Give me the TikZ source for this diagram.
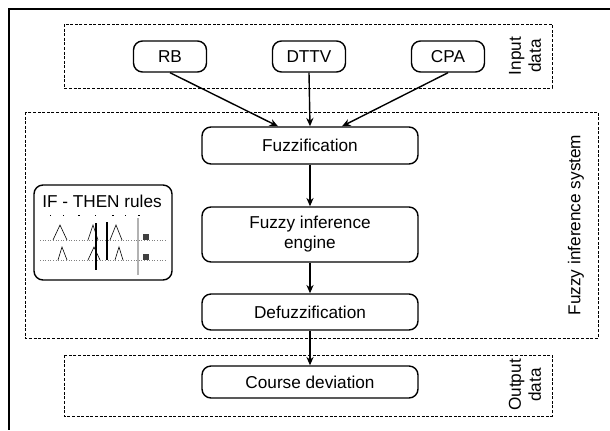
\documentclass[tikz,border=0pt]{standalone}
\usepackage{fontspec}
\setmainfont{Liberation Sans}
\usetikzlibrary{arrows.meta, positioning}

\begin{document}
\begin{tikzpicture}[x=0.5pt, y=-0.5pt, line width=0.7pt, >={Stealth[length=4.2pt, width=3.6pt]}, font=\fontsize{8.6}{10}\selectfont]

		% Define styles
		\tikzstyle{block} = [rectangle, draw, rounded corners=4.5pt, text centered, minimum width=108pt, minimum height=18pt, inner sep=0pt]
		\tikzstyle{source} = [block, minimum width=36.5pt, minimum height=15.5pt]
		\tikzstyle{group} = [draw, dash pattern=on 1.5pt off 0.8pt, line width=0.5pt]
		\tikzstyle{side} = [rotate=90, align=center]

		\useasboundingbox (0,0) rectangle (610,430);

		% Frame
		\draw[line width=1pt] (8,9) -- (610,9);
		\draw[line width=1pt] (9,9) -- (9,430);

		% Dashed groups
		\draw[group] (64,24) rectangle (552,88);
		\draw[group] (25,112) rectangle (598,338);
		\draw[group] (64,355) rectangle (552,416);

		% Nodes
		\node[source] (rb) at (170,56.5) {RB};
		\node[source, right of=rb, node distance=69.5pt] (dttv) {DTTV};
		\node[source, right of=dttv, node distance=69.5pt] (cpa) {CPA};

		\node[block, minimum height=18.5pt] (fuzz) at (310,145.5) {Fuzzification};
		\node[block, below of=fuzz, node distance=44.5pt, minimum height=27.5pt, align=center] (engine) {Fuzzy inference\\engine};
		\node[block, below of=engine, node distance=38.75pt] (defuzz) {Defuzzification};
		\node[block, below of=defuzz, node distance=35pt, minimum height=16pt] (course) {Course deviation};

		\node[block, minimum width=69pt, minimum height=47.5pt] (rules) at (103,232.5) {};
		\node (rulestitle) at (102,201) {IF - THEN rules};

		% Rule plot inside the box
		\draw[gray, line width=0.3pt, densely dotted] (40,240) -- (167,240);
		\draw[gray, line width=0.3pt, densely dotted] (40,260) -- (167,260);
		\draw[line width=0.3pt] (53,240) -- (60,225) -- (67,240);
		\draw[line width=0.3pt] (88,240) -- (93,225) -- (98,240);
		\draw[line width=0.3pt] (110,240) -- (116,225) -- (122,240);
		\draw[line width=0.3pt] (58,260) -- (62,247) -- (67,260);
		\draw[line width=0.3pt] (88,260) -- (94,247) -- (100,260);
		\draw[line width=0.3pt] (115,260) -- (119,247) -- (123,260);
		\draw[line width=1pt] (96,223) -- (96,270);
		\draw[line width=1pt] (107,222) -- (107,260);
		\draw[gray!60, line width=1pt] (138,218) -- (138,275);
		\fill[black!75] (143,234) rectangle (149,240);
		\fill[black!75] (143,254) rectangle (149,260);
		\draw[line width=0.3pt] (50,215) -- (51,215) (63,215) -- (64,215) (78,215) -- (80,215) (95,215) -- (96,215) (112,215) -- (114,215) (125,215) -- (126,215) (138,215) -- (140,215);

		% Arrows
		\draw[->] (rb.south) -- ([xshift=-16pt]fuzz.north);
		\draw[->] (dttv.south) -- (fuzz.north);
		\draw[->] (cpa.south) -- ([xshift=16pt]fuzz.north);
		\draw[->] (fuzz) -- (engine);
		\draw[->] (engine) -- (defuzz);
		\draw[->] (defuzz) -- (course);

		% Labels
		\node[side] (inlabel) at (525,56) {Input\\data};
		\node[side] (fislabel) at (576,225) {Fuzzy inference system};
		\node[side] (outlabel) at (525,385) {Output\\data};

	\end{tikzpicture}
\end{document}
